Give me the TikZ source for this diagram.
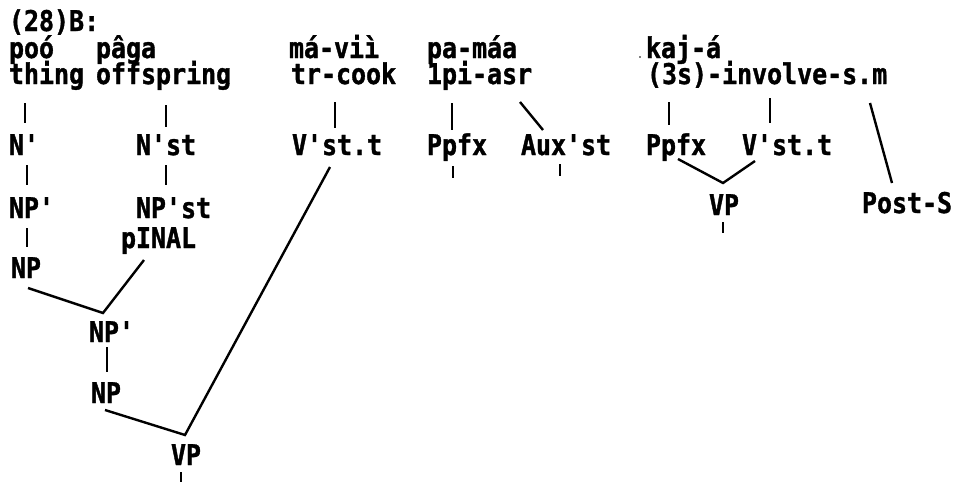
\documentclass[tikz,border=0pt]{standalone}
\usepackage{fontspec}
\newfontfamily\tw{DejaVu Sans Mono}[Ligatures=TeXOff, FakeStretch=0.875, BoldFeatures={FakeBold=1.2}]
\begin{document}
\begin{tikzpicture}[x=1pt,y=-1pt,
  lab/.style={anchor=base west, inner sep=0pt, outer sep=0pt,
    font={\tw\bfseries\fontsize{28.5pt}{31pt}\selectfont}},
  tick/.style={line width=2.6pt},
  conn/.style={line width=2.4pt}]
\fill[white] (0,0) rectangle (958,482);
\useasboundingbox (0,0) rectangle (958,482);
% row 1
\node[lab] (hdr) at (9,31) {(28)B:};
% row 2
\node[lab] (poo) at (9,58) {poó};
\node[lab] (paga) at (96,58) {pâga};
\node[lab] (mavii) at (289,58) {má-viì};
\node[lab] (pamaa) at (427,58) {pa-máa};
\node[lab] (kaja) at (646,58) {kaj-á};
\fill (640,57) circle (0.9pt);
% row 3
\node[lab] (thing) at (9,84) {thing};
\node[lab] (offs) at (96,84) {offspring};
\node[lab] (trcook) at (291,84) {tr-cook};
\node[lab] (asr) at (427,84) {1pi-asr};
\node[lab] (inv) at (647,84) {(3s)-involve-s.m};
% row 4
\node[lab] (Nb) at (9,155) {N'};
\node[lab] (Nst) at (136,155) {N'st};
\node[lab] (Vst1) at (292,155) {V'st.t};
\node[lab] (Ppfx1) at (427,155) {Ppfx};
\node[lab] (Aux) at (521,155) {Aux'st};
\node[lab] (Ppfx2) at (646,155) {Ppfx};
\node[lab] (Vst2) at (742,155) {V'st.t};
% row 5
\node[lab] (NPb) at (9,218) {NP'};
\node[lab] (NPst) at (136,218) {NP'st};
\node[lab] (VPr) at (709,215) {VP};
\node[lab] (Post) at (862,213) {Post-S};
\node[lab] (pinal) at (121,248) {pINAL};
\node[lab] (NP1) at (11,278) {NP};
\node[lab] (NPp2) at (89,342) {NP'};
\node[lab] (NP2) at (91,403) {NP};
\node[lab] (VP2) at (171,465) {VP};
% tick coordinates
\coordinate (a1) at (25,103);  \coordinate (b1) at (25,123);
\coordinate (a2) at (166,105); \coordinate (b2) at (166,127);
\coordinate (a3) at (335,102); \coordinate (b3) at (335,128);
\coordinate (a4) at (452,103); \coordinate (b4) at (452,130);
\coordinate (a5) at (669,102); \coordinate (b5) at (669,125);
\coordinate (a6) at (770,98);  \coordinate (b6) at (770,123);
\coordinate (a7) at (27,165);  \coordinate (b7) at (27,185);
\coordinate (a8) at (166,165); \coordinate (b8) at (166,185);
\coordinate (a9) at (453,166); \coordinate (b9) at (453,178);
\coordinate (a10) at (560,164); \coordinate (b10) at (560,176);
\coordinate (a11) at (27,228); \coordinate (b11) at (27,247);
\coordinate (a12) at (107,347); \coordinate (b12) at (107,372);
\coordinate (a13) at (723,222); \coordinate (b13) at (723,233);
\coordinate (a14) at (181,472); \coordinate (b14) at (181,482);
\foreach \i in {1,...,14} {\draw[tick] (a\i) -- (b\i);}
% diagonal connectors
\coordinate (asrE) at (520,102);  \coordinate (auxN) at (543,130);
\coordinate (smE) at (870,103);   \coordinate (postN) at (892,183);
\coordinate (pp2S) at (678,159);  \coordinate (vs2S) at (755,161);
\coordinate (vprN) at (723,183);
\coordinate (np1S) at (28,288);   \coordinate (pinS) at (144,260);
\coordinate (npp2N) at (103,313);
\coordinate (np2S) at (105,410);  \coordinate (vs1S) at (330,167);
\coordinate (vp2N) at (185,435);
\draw[conn] (asrE) -- (auxN);
\draw[conn] (smE) -- (postN);
\draw[conn] (pp2S) -- (vprN) -- (vs2S);
\draw[conn] (np1S) -- (npp2N) -- (pinS);
\draw[conn] (np2S) -- (vp2N) -- (vs1S);
\end{tikzpicture}
\end{document}
